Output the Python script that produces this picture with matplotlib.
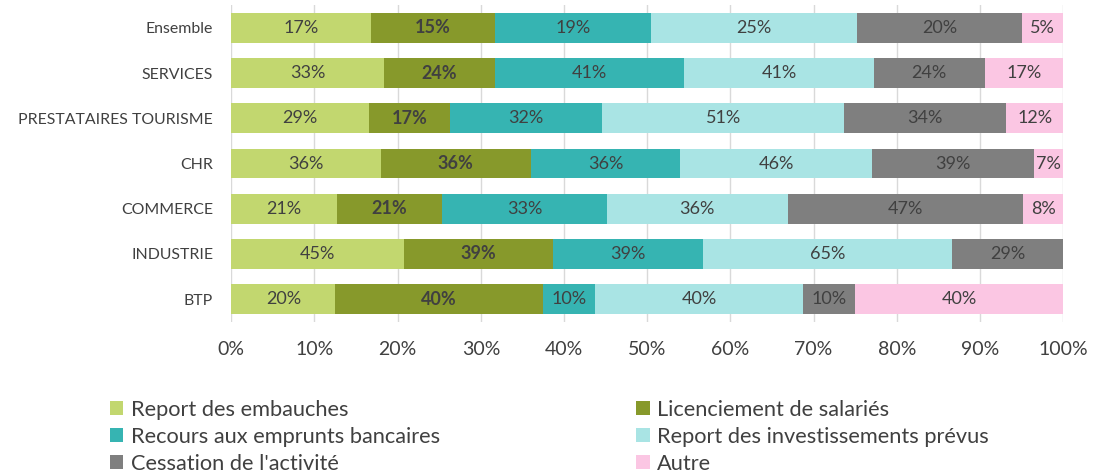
import matplotlib
matplotlib.use("Agg")
import matplotlib.pyplot as plt
import numpy as np

plt.rcParams['font.family'] = ['Lato', 'DejaVu Sans']

categories = ["Ensemble", "SERVICES", "PRESTATAIRES TOURISME", "CHR", "COMMERCE", "INDUSTRIE", "BTP"]
series_names = ["Report des embauches", "Licenciement de salariés", "Recours aux emprunts bancaires",
                "Report des investissements prévus", "Cessation de l'activité", "Autre"]
report_embauches = [17, 33, 29, 36, 21, 45, 20]
licenciement = [15, 24, 17, 36, 21, 39, 40]
recours_emprunts = [19, 41, 32, 36, 33, 39, 10]
report_invest = [25, 41, 51, 46, 36, 65, 40]
cessation = [20, 24, 34, 39, 47, 29, 10]
autre = [5, 17, 12, 7, 8, 0, 40]
xticks = [0, 10, 20, 30, 40, 50, 60, 70, 80, 90, 100]

colors = ["#C2D76F", "#87992B", "#36B4B2", "#A9E4E4", "#7F7F7F", "#FBC6E3"]
text_color = "#404040"

data = np.array([report_embauches, licenciement, recours_emprunts, report_invest, cessation, autre], dtype=float)
totals = data.sum(axis=0)
norm = data / totals * 100

fig = plt.figure(figsize=(11.04, 4.74), dpi=100)
ax = fig.add_axes([0.2095, 0.321, 0.7535, 0.668])

n = len(categories)
ypos = np.arange(n)[::-1]
left = np.zeros(n)
handles = []
for i, name in enumerate(series_names):
    bars = ax.barh(ypos, norm[i], left=left, height=0.66, color=colors[i], label=name, zorder=3)
    handles.append(bars)
    for j in range(n):
        if data[i, j] > 0:
            ax.text(left[j] + norm[i, j] / 2, ypos[j], f"{int(data[i, j])}%",
                    ha="center", va="center", fontsize=13, color=text_color,
                    fontweight="bold" if i == 1 else "normal", zorder=4)
    left += norm[i]

ax.set_xlim(0, 100)
ax.set_ylim(-0.5, n - 0.5)
ax.set_xticks(xticks)
ax.set_xticklabels([f"{t}%" for t in xticks], fontsize=14, color=text_color)
ax.tick_params(axis="both", length=0)
ax.set_yticks(ypos)
ax.set_yticklabels(categories, fontsize=11.4, color=text_color)
ax.tick_params(axis="x", pad=14)
ax.tick_params(axis="y", pad=13)
ax.grid(axis="x", color="#D9D9D9", linewidth=1, zorder=0)
for s in ax.spines.values():
    s.set_visible(False)

order = [0, 2, 4, 1, 3, 5]
leg = fig.legend([handles[k] for k in order], [series_names[k] for k in order],
                 ncol=2, loc="upper left", bbox_to_anchor=(0.1, 0.157),
                 frameon=False, fontsize=15.7, handlelength=0.6, handleheight=0.6,
                 handletextpad=0.35, columnspacing=9.0, labelspacing=0.33,
                 labelcolor=text_color, borderaxespad=0, borderpad=0)

fig.savefig("out.png", dpi=100)
